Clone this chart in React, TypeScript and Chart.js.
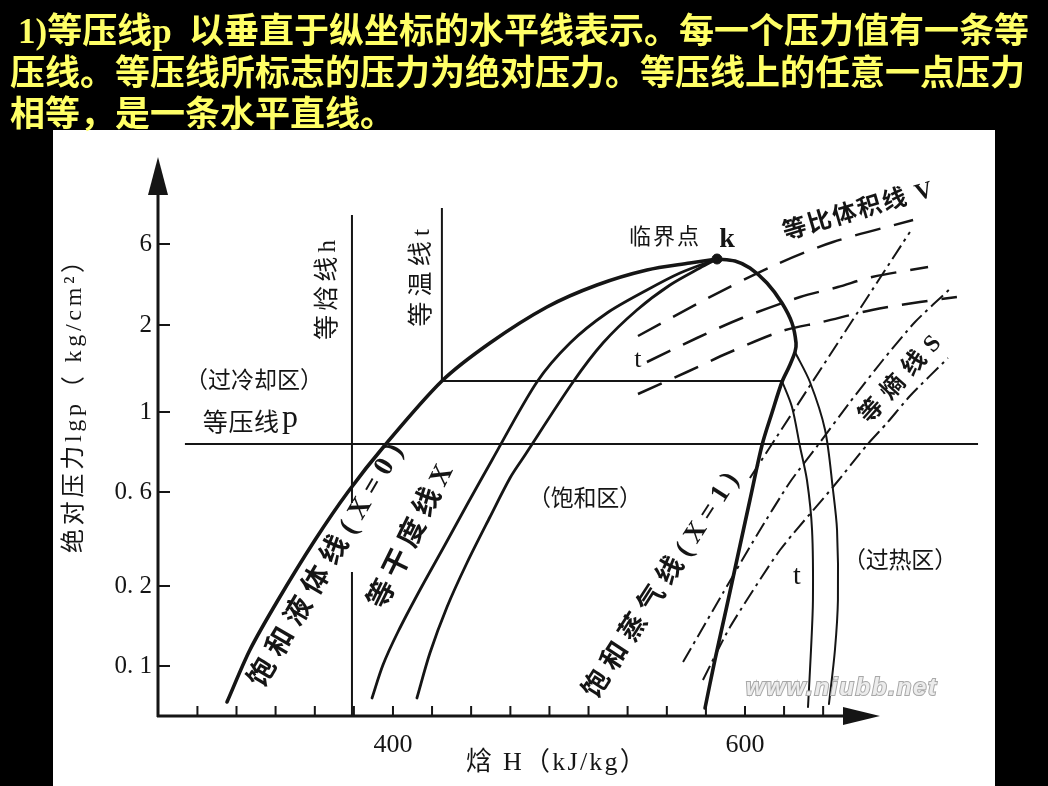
import React, { useEffect, useRef } from 'react';
import { Chart, registerables } from 'chart.js';

Chart.register(...registerables);

// x: enthalpy H (kJ/kg); y: schematic position on the lg p axis (axis units, 0 = origin)
const xTickLabels = [400, 600];
const xMinorTicks = [288.9, 311.1, 333.3, 355.6, 377.8, 400, 422.2, 444.4, 466.7, 488.9, 511.1, 533.3, 555.6, 577.8, 600, 622.2, 644.4];
const yTickPositions = [50, 130, 224, 304, 391, 472];
const yTickLabels = ['0. 1', '0. 2', '0. 6', '1', '2', '6'];

// saturated liquid line (X=0)
const liquidH = [305.7, 318.7, 334.7, 355.7, 374.4, 395.5, 427.8, 455.1, 487.5, 515.9, 544.3, 568.7, 584.1];
const liquidP = [14, 66, 116, 176, 224, 271, 335, 373, 409, 431, 446, 453, 457];
// saturated vapour line (X=1)
const vaporH = [584.1, 594.3, 602.8, 612.5, 621.0, 626.7, 629.0, 628.4, 625.0, 621.0, 615.3, 609.7, 602.8, 596.0, 589.2, 582.9, 577.3];
const vaporP = [457, 455, 448, 433, 413, 393, 373, 364, 349, 334, 303, 271, 216, 161, 106, 56, 8];
// constant quality lines X
const quality1H = [388.1, 394.3, 402.8, 415.3, 429.5, 442.6, 456.3, 481.8, 500.6, 521.6, 544.3, 563.1, 584.1];
const quality1P = [18, 51, 84, 126, 171, 213, 256, 334, 373, 403, 426, 443, 457];
const quality2H = [413.6, 421.0, 430.7, 442.0, 455.1, 466.5, 473.9, 502.3, 519.3, 538.6, 557.4, 574.4, 584.1];
const quality2P = [18, 63, 109, 153, 199, 238, 258, 334, 373, 406, 431, 448, 457];
// isobar p
const isobarH = [281.8, 732.4];
const isobarP = [272, 272];
// isenthalp h (broken where the label crosses it)
const isenthalpH = [376.7, 376.7];
const isenthalpUpperP = [501, 213];
const isenthalpLowerP = [144, 0];
// isotherm t: subcooled vertical + two-phase horizontal, then superheated branch
const isothermH = [427.8, 427.8, 621.0];
const isothermP = [508, 335, 335];
const isothermSuperH = [621.0, 626.7, 631.3, 635.2, 638.1, 638.6, 637.5, 635.8];
const isothermSuperP = [335, 309, 269, 236, 186, 116, 66, 9];
const isotherm2H = [628.4, 636.9, 645.5, 650.0, 652.3, 652.8, 651.1, 647.7];
const isotherm2P = [364, 334, 286, 226, 186, 116, 66, 12];
// constant specific volume lines V (dashed)
const vol1H = [539.2, 579.0, 617.0, 650.0, 695.5];
const vol1P = [380, 418, 451, 474, 496];
const vol2H = [544.3, 572.7, 598.3, 631.3, 652.8, 672.2, 704.0];
const vol2P = [354, 378, 398, 419, 429, 439, 449];
const vol3H = [539.2, 567.0, 590.3, 621.0, 643.8, 672.2, 699.4, 720.4];
const vol3P = [322, 344, 363, 385, 394, 406, 414, 419];
// constant entropy lines S (dash-dot)
const ent1H = [602.8, 693.7];
const ent1P = [238, 484];
const ent2H = [564.8, 587.5, 606.8, 625.6, 641.5, 659.7, 678.4, 696.6, 717.6];
const ent2P = [54, 123, 181, 234, 271, 314, 356, 394, 429];
const ent3H = [576.1, 591.5, 619.9, 650.0, 669.3, 680.7, 693.7, 715.3];
const ent3P = [36, 89, 166, 229, 271, 293, 320, 358];
// critical point k
const criticalH = [584.1];
const criticalP = [457];

const xAxisEnd = 676.7;

const zip = (hs: number[], ps: number[]) => hs.map((h, i) => ({ x: h, y: ps[i] }));

const INK = '#151515';
const SERIF_CJK = '"Liberation Serif", "Noto Sans CJK SC"';

type Note = {
  t: string; x: number; y: number; size: number; rot?: number; len?: number;
  bold?: boolean; align?: CanvasTextAlign; baseline?: CanvasTextBaseline; family?: string;
};

const notes: Note[] = [
  { t: '等焓线h', x: 363.6, y: 426, size: 25, rot: -90, len: 104 },
  { t: '等温线t', x: 416.5, y: 438, size: 25, rot: -90, len: 103 },
  { t: '临界点', x: 554.0, y: 478, size: 22, len: 72 },
  { t: 'k', x: 589.8, y: 476, size: 28, bold: true },
  { t: '等比体积线 V', x: 664.2, y: 504, size: 24, rot: -16.5, bold: true, len: 157 },
  { t: '（过冷却区）', x: 321.0, y: 334, size: 23, len: 138 },
  { t: '等压线', x: 313.6, y: 292, size: 25, len: 77 },
  { t: 'p', x: 336.9, y: 289, size: 32, align: 'left', baseline: 'alphabetic' },
  { t: '饱和液体线(X=0)', x: 362.5, y: 150, size: 28, rot: -59.6, bold: true, len: 285 },
  { t: '等干度线X', x: 410.8, y: 179, size: 28, rot: -63.8, bold: true, len: 163 },
  { t: '饱和蒸气线(X=1)', x: 552.8, y: 130, size: 27, rot: -57.2, bold: true, len: 270 },
  { t: '等熵线S', x: 688.6, y: 336, size: 24, rot: -48, bold: true, len: 117 },
  { t: '（饱和区）', x: 509.1, y: 216, size: 23, len: 114 },
  { t: '（过热区）', x: 688.1, y: 154, size: 23, len: 114 },
  { t: 't', x: 539.2, y: 356, size: 26 },
  { t: 't', x: 629.5, y: 139, size: 28 },
  { t: '绝对压力lgp（ kg/cm²）', x: 219.3, y: 315, size: 24, rot: -90, len: 308 },
  { t: '焓 H（kJ/kg）', x: 492.6, y: -47, size: 26, len: 182 },
];

function drawText(ctx: CanvasRenderingContext2D, n: Note, px: number, py: number) {
  ctx.save();
  ctx.translate(px, py);
  ctx.rotate(((n.rot || 0) * Math.PI) / 180);
  ctx.font = `${n.bold ? 'bold ' : ''}${n.size}px ${n.family || SERIF_CJK}`;
  ctx.textAlign = n.align || 'center';
  ctx.textBaseline = n.baseline || 'middle';
  ctx.fillStyle = INK;
  let shift = 0;
  if (n.len) {
    const count = Array.from(n.t).length;
    const w = ctx.measureText(n.t).width;
    const ls = (n.len - w) / count;
    (ctx as any).letterSpacing = `${ls}px`;
    shift = ls / 2;
  }
  ctx.fillText(n.t, shift, 0);
  ctx.restore();
}

const diagramPlugin = {
  id: 'phDiagram',
  beforeDatasetsDraw(chart: any) {
    const { ctx, chartArea, scales } = chart;
    const xs = scales.x;
    const ys = scales.y;
    const L = chartArea.left;
    const B = chartArea.bottom;
    const tipY = chartArea.top;
    const tipX = xs.getPixelForValue(xAxisEnd);
    ctx.save();
    ctx.strokeStyle = INK;
    ctx.fillStyle = INK;
    ctx.lineWidth = 3;
    ctx.beginPath();
    ctx.moveTo(L, B + 1);
    ctx.lineTo(L, tipY + 30);
    ctx.moveTo(L - 1, B);
    ctx.lineTo(tipX - 30, B);
    ctx.stroke();
    ctx.beginPath();
    ctx.moveTo(L, tipY);
    ctx.lineTo(L - 10, tipY + 38);
    ctx.lineTo(L + 10, tipY + 38);
    ctx.closePath();
    ctx.fill();
    ctx.beginPath();
    ctx.moveTo(tipX, B);
    ctx.lineTo(tipX - 37, B - 9);
    ctx.lineTo(tipX - 37, B + 9);
    ctx.closePath();
    ctx.fill();
    ctx.lineWidth = 2;
    ctx.beginPath();
    yTickPositions.forEach((v) => {
      const y = ys.getPixelForValue(v);
      ctx.moveTo(L, y);
      ctx.lineTo(L + 12, y);
    });
    xMinorTicks.forEach((v) => {
      const x = xs.getPixelForValue(v);
      ctx.moveTo(x, B);
      ctx.lineTo(x, B - 10);
    });
    ctx.stroke();
    ctx.restore();
  },
  afterDatasetsDraw(chart: any) {
    const { ctx, scales } = chart;
    const xs = scales.x;
    const ys = scales.y;
    notes.forEach((n) => drawText(ctx, n, xs.getPixelForValue(n.x), ys.getPixelForValue(n.y)));
    // watermark
    ctx.save();
    const wx = xs.getPixelForValue(654.5);
    const wy = ys.getPixelForValue(28);
    ctx.font = 'bold italic 24px "Liberation Sans"';
    ctx.textAlign = 'center';
    ctx.textBaseline = 'middle';
    const w = ctx.measureText('www.niubb.net').width;
    const ls = (192 - w) / 13;
    (ctx as any).letterSpacing = `${ls}px`;
    ctx.lineWidth = 2;
    ctx.strokeStyle = '#a8a8a8';
    ctx.fillStyle = '#ececec';
    ctx.strokeText('www.niubb.net', wx + ls / 2, wy);
    ctx.fillText('www.niubb.net', wx + ls / 2, wy);
    ctx.restore();
  },
};

function lineSet(hs: number[], ps: number[], width: number, extra: any = {}) {
  return {
    data: zip(hs, ps),
    borderColor: INK,
    backgroundColor: INK,
    borderWidth: width,
    pointRadius: 0,
    tension: 0.3,
    fill: false,
    clip: false,
    borderCapStyle: 'round',
    ...extra,
  };
}

export default function App() {
  const ref = useRef<HTMLCanvasElement>(null);

  useEffect(() => {
    if (!ref.current) return;
    const dashV = { borderDash: [26, 14], borderCapStyle: 'butt' };
    const dashS = { borderDash: [16, 5, 3, 5], borderCapStyle: 'butt', tension: 0.2 };
    const chart = new Chart(ref.current, {
      type: 'line',
      data: {
        datasets: [
          lineSet(isobarH, isobarP, 2, { tension: 0, borderCapStyle: 'butt' }),
          lineSet(isenthalpH, isenthalpUpperP, 2, { tension: 0, borderCapStyle: 'butt' }),
          lineSet(isenthalpH, isenthalpLowerP, 2, { tension: 0, borderCapStyle: 'butt' }),
          lineSet(isothermH, isothermP, 2, { tension: 0, borderCapStyle: 'butt', borderJoinStyle: 'miter' }),
          lineSet(isothermSuperH, isothermSuperP, 2),
          lineSet(isotherm2H, isotherm2P, 2),
          lineSet(vol1H, vol1P, 2.5, dashV),
          lineSet(vol2H, vol2P, 2.5, dashV),
          lineSet(vol3H, vol3P, 2.5, dashV),
          lineSet(ent1H, ent1P, 2, dashS),
          lineSet(ent2H, ent2P, 2, dashS),
          lineSet(ent3H, ent3P, 2, dashS),
          lineSet(quality1H, quality1P, 2.8),
          lineSet(quality2H, quality2P, 2.8),
          lineSet(liquidH, liquidP, 3.6),
          lineSet(vaporH, vaporP, 3.6),
          {
            data: zip(criticalH, criticalP),
            showLine: false,
            pointRadius: 5,
            pointBackgroundColor: INK,
            pointBorderColor: INK,
            clip: false,
          },
        ] as any,
      },
      options: {
        responsive: false,
        animation: false,
        devicePixelRatio: 1,
        events: [],
        layout: { padding: { left: 0, right: 58, top: 157, bottom: 0 } },
        plugins: { legend: { display: false }, tooltip: { enabled: false }, title: { display: false } },
        scales: {
          x: {
            type: 'linear',
            min: 266.5,
            max: 739.2,
            grid: { display: false, drawTicks: false },
            border: { display: false },
            afterFit: (s: any) => { s.height = 70; },
            afterBuildTicks: (s: any) => { s.ticks = xTickLabels.map((v) => ({ value: v })); },
            ticks: {
              autoSkip: false,
              maxRotation: 0,
              padding: 14,
              color: INK,
              font: { family: 'Liberation Serif', size: 26 },
              callback: (v: any) => String(v),
            },
          },
          y: {
            type: 'linear',
            min: 0,
            max: 559,
            grid: { display: false, drawTicks: false },
            border: { display: false },
            afterFit: (s: any) => { s.width = 158; },
            afterBuildTicks: (s: any) => { s.ticks = yTickPositions.map((v) => ({ value: v })); },
            ticks: {
              autoSkip: false,
              padding: 6,
              color: INK,
              font: { family: 'Liberation Serif', size: 25 },
              callback: (_v: any, i: number) => yTickLabels[i],
            },
          },
        },
      } as any,
      plugins: [diagramPlugin],
    });
    return () => chart.destroy();
  }, []);

  const titleLines = [
    '1)等压线p  以垂直于纵坐标的水平线表示。每一个压力值有一条等',
    '压线。等压线所标志的压力为绝对压力。等压线上的任意一点压力',
    '相等，是一条水平直线。',
  ];

  return (
    <div style={{ position: 'absolute', left: 0, top: 0, width: 1048, height: 786, background: '#000', overflow: 'hidden' }}>
      <div style={{ position: 'absolute', left: 53, top: 130, width: 942, height: 656, background: '#fff' }} />
      <canvas ref={ref} width={1048} height={786} style={{ position: 'absolute', left: 0, top: 0, width: 1048, height: 786 }} />
      <div
        style={{
          position: 'absolute', left: 0, top: 11, width: 1048,
          color: '#ffff66', fontFamily: SERIF_CJK, fontWeight: 700, fontSize: 35,
          lineHeight: '41.5px', whiteSpace: 'pre',
        }}
      >
        {titleLines.map((line, i) => (
          <div key={i} style={{ paddingLeft: i === 0 ? 18 : 10, height: 41.5 }}>{line}</div>
        ))}
      </div>
    </div>
  );
}
